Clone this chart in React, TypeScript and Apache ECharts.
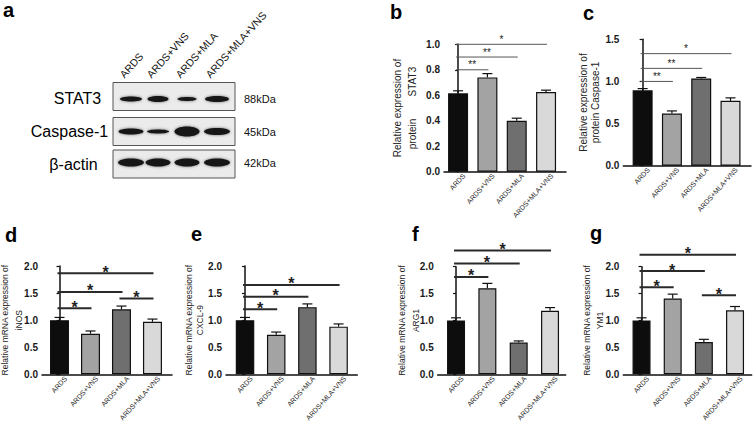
import React, { useEffect, useRef } from 'react';
import * as echarts from 'echarts';

const FONT = 'Liberation Sans, Arial, sans-serif';

// ---- data ----
const categories = ['ARDS', 'ARDS+VNS', 'ARDS+MLA', 'ARDS+MLA+VNS'];
const barColors = ['#0d0d0d', '#a3a3a3', '#6f6f6f', '#d9d9d9'];

const stat3Mean = [0.615, 0.74, 0.4, 0.625];
const stat3Sem = [0.02, 0.03, 0.02, 0.015];
const caspMean = [0.895, 0.62, 1.035, 0.77];
const caspSem = [0.02, 0.03, 0.012, 0.035];
const inosMean = [1.0, 0.75, 1.2, 0.97];
const inosSem = [0.05, 0.05, 0.06, 0.05];
const cxclMean = [1.0, 0.73, 1.24, 0.88];
const cxclSem = [0.05, 0.05, 0.06, 0.05];
const arg1Mean = [1.0, 1.6, 0.59, 1.18];
const arg1Sem = [0.05, 0.09, 0.03, 0.06];
const ym1Mean = [1.0, 1.41, 0.6, 1.19];
const ym1Sem = [0.05, 0.08, 0.05, 0.07];

// significance brackets: [fromIndex, toIndex, yValue, label]
const stat3Sig: [number, number, number, string][] = [[0, 1, 0.8, '**'], [0, 2, 0.9, '**'], [0, 3, 1.0, '*']];
const caspSig: [number, number, number, string][] = [[0, 1, 1.0, '**'], [0, 2, 1.155, '**'], [0, 3, 1.33, '*']];
const inosSig: [number, number, number, string][] = [[0, 1, 1.22, '*'], [0, 2, 1.52, '*'], [0, 3, 1.865, '*'], [2, 3, 1.4, '*']];
const cxclSig: [number, number, number, string][] = [[0, 1, 1.2, '*'], [0, 2, 1.43, '*'], [0, 3, 1.65, '*']];
const arg1Sig: [number, number, number, string][] = [[0, 1, 1.81, '*'], [0, 2, 2.06, '*'], [0, 3, 2.3, '*']];
const ym1Sig: [number, number, number, string][] = [[0, 1, 1.62, '*'], [0, 2, 1.92, '*'], [0, 3, 2.22, '*'], [2, 3, 1.47, '*']];

// western blot
const blotRows = ['STAT3', 'Caspase-1', 'β-actin'];
const blotKda = ['88kDa', '45kDa', '42kDa'];
const blotBandWidths = [[22, 21, 19, 24], [25, 22, 25, 26], [26, 25, 25, 26]];
const blotBandHeights = [[5, 6, 4, 6], [6, 4, 10, 7], [8, 8, 8, 8]];

type Panel = {
  mean: number[]; sem: number[]; sig: [number, number, number, string][];
  title: string; grid: { left: number; top: number; width: number; height: number };
  xMin: number; xMax: number; yMax: number; yInterval: number; barWidth: number;
  nameGap: number; nameLH: number; nameSize: number; thin: boolean;
};

const panels: Panel[] = [
  { mean: stat3Mean, sem: stat3Sem, sig: stat3Sig, title: 'Relative expression of\nprotein        STAT3',
    grid: { left: 444, top: 44.3, width: 122, height: 127.4 }, xMin: -0.48, xMax: 3.68, yMax: 1.0, yInterval: 0.2,
    barWidth: 20, nameGap: 24.5, nameLH: 15, nameSize: 10, thin: true },
  { mean: caspMean, sem: caspSem, sig: caspSig, title: 'Relative expression of\nprotein Caspase-1',
    grid: { left: 623.3, top: 39.3, width: 127.7, height: 126.4 }, xMin: -0.66, xMax: 3.7, yMax: 1.5, yInterval: 0.5,
    barWidth: 20, nameGap: 22, nameLH: 12, nameSize: 10, thin: true },
  { mean: inosMean, sem: inosSem, sig: inosSig, title: 'Relative mRNA expression of\niNOS',
    grid: { left: 42, top: 266, width: 130, height: 108.3 }, xMin: -0.565, xMax: 3.63, yMax: 2, yInterval: 0.5,
    barWidth: 19, nameGap: 16, nameLH: 14, nameSize: 8.5, thin: false },
  { mean: cxclMean, sem: cxclSem, sig: cxclSig, title: 'Relative mRNA expression of\nCXCL-9',
    grid: { left: 226, top: 266, width: 131.3, height: 108.3 }, xMin: -0.61, xMax: 3.6, yMax: 2, yInterval: 0.5,
    barWidth: 18.5, nameGap: 20.5, nameLH: 11, nameSize: 8.5, thin: false },
  { mean: arg1Mean, sem: arg1Sem, sig: arg1Sig, title: 'Relative mRNA expression of\nARG1',
    grid: { left: 437.7, top: 266.7, width: 128, height: 107.6 }, xMin: -0.585, xMax: 3.5, yMax: 2, yInterval: 0.5,
    barWidth: 18, nameGap: 14.7, nameLH: 14, nameSize: 8.5, thin: false },
  { mean: ym1Mean, sem: ym1Sem, sig: ym1Sig, title: 'Relative mRNA expression of\nYM1',
    grid: { left: 623.3, top: 266.7, width: 128.4, height: 107.6 }, xMin: -0.585, xMax: 3.535, yMax: 2, yInterval: 0.5,
    barWidth: 18, nameGap: 17, nameLH: 13, nameSize: 8.5, thin: false },
];

const panelLetters = [
  { t: 'a', x: 3, y: 10 }, { t: 'b', x: 390, y: 12 }, { t: 'c', x: 583, y: 13 },
  { t: 'd', x: 5, y: 235 }, { t: 'e', x: 191, y: 234 }, { t: 'f', x: 412, y: 234 }, { t: 'g', x: 590, y: 233 },
];

function buildBlot(): any[] {
  const els: any[] = [];
  const laneX = [131, 158, 187, 217];
  const rowY = [96.5, 131.5, 164];
  const rowLabelX = [77.5, 69.5, 73.5];
  categories.forEach((c, i) => {
    els.push({
      type: 'text', x: laneX[i] - 5, y: 80, rotation: (48 * Math.PI) / 180,
      style: { text: c, fontSize: 10.5, fontFamily: FONT, fill: '#111', align: 'left', verticalAlign: 'bottom' },
    });
  });
  blotRows.forEach((r, ri) => {
    els.push({
      type: 'rect', shape: { x: 113, y: rowY[ri] - 14, width: 122, height: 28 },
      style: { fill: '#ebebeb', stroke: '#555', lineWidth: 1 },
    });
    laneX.forEach((lx, li) => {
      els.push({
        type: 'ellipse',
        shape: { cx: lx, cy: rowY[ri] + (ri === 0 ? 2.5 : ri === 2 ? -1.5 : 0), rx: blotBandWidths[ri][li] / 2, ry: blotBandHeights[ri][li] / 2 },
        style: { fill: '#141414', shadowBlur: 3, shadowColor: 'rgba(0,0,0,0.55)' },
      });
    });
    els.push({
      type: 'text', x: rowLabelX[ri], y: rowY[ri] + (ri === 0 ? 1.5 : 0),
      style: { text: r, fontSize: 16, fontFamily: FONT, fill: '#000', align: 'center', verticalAlign: 'middle' },
    });
    els.push({
      type: 'text', x: 244, y: rowY[ri] + (ri === 0 ? 2.5 : ri === 2 ? -1.5 : 0),
      style: { text: blotKda[ri], fontSize: 11, fontFamily: FONT, fill: '#111', align: 'left', verticalAlign: 'middle' },
    });
  });
  return els;
}

export default function App() {
  const ref = useRef<HTMLDivElement>(null);
  useEffect(() => {
    if (!ref.current) return;
    const chart = echarts.init(ref.current, undefined, { renderer: 'svg' });
    const grids: any[] = [];
    const xAxes: any[] = [];
    const yAxes: any[] = [];
    const series: any[] = [];
    panels.forEach((p, k) => {
      grids.push({ ...p.grid, containLabel: false, outerBoundsMode: 'none' });
      xAxes.push({
        type: 'value', gridIndex: k, min: p.xMin, max: p.xMax,
        axisLine: { show: true, lineStyle: { color: '#111', width: 1.5 } },
        axisTick: { show: false }, splitLine: { show: false },
        axisLabel: {
          customValues: categories.map((_, i) => i + 0.2), rotate: 48, fontSize: 7, fontFamily: FONT, color: '#222', margin: 3,
          formatter: (v: number) => categories[Math.round(v)] ?? '',
        },
      });
      yAxes.push({
        type: 'value', gridIndex: k, min: 0, max: p.yMax, interval: p.yInterval,
        axisLine: { show: true, lineStyle: { color: '#111', width: 1.5 } },
        axisTick: { show: true, length: 3, lineStyle: { color: '#111', width: 1.2 } },
        splitLine: { show: false },
        axisLabel: { fontSize: 10, fontWeight: 'bold', fontFamily: FONT, color: '#1a1a1a', margin: 4, formatter: (v: number) => v.toFixed(1) },
        name: p.title, nameLocation: 'middle', nameRotate: 90, nameGap: p.nameGap, nameMoveOverlap: false,
        nameTextStyle: { fontSize: p.nameSize, fontFamily: FONT, color: '#222', lineHeight: p.nameLH, align: 'center' },
      });
      series.push({
        type: 'bar', xAxisIndex: k, yAxisIndex: k, barWidth: p.barWidth, z: 2,
        data: p.mean.map((v, i) => ({ value: [i, v], itemStyle: { color: barColors[i] } })),
        itemStyle: { borderColor: '#111', borderWidth: 1.2 },
      });
      series.push({
        type: 'custom', xAxisIndex: k, yAxisIndex: k, z: 3, clip: false, color: '#111',
        encode: { x: 0, y: [1, 2] },
        data: p.mean.map((v, i) => [i, v, v + p.sem[i]]),
        renderItem: (params: any, api: any) => {
          const x = api.value(0), m = api.value(1), t = api.value(2);
          const a = api.coord([x, m]);
          const b = api.coord([x, t]);
          const hw = 5;
          return {
            type: 'group', children: [
              { type: 'line', shape: { x1: a[0], y1: a[1], x2: b[0], y2: b[1] }, style: { stroke: '#111', lineWidth: 1.2 } },
              { type: 'line', shape: { x1: b[0] - hw, y1: b[1], x2: b[0] + hw, y2: b[1] }, style: { stroke: '#111', lineWidth: 1.2 } },
            ],
          };
        },
      });
      const sig = p.sig;
      series.push({
        type: 'custom', xAxisIndex: k, yAxisIndex: k, z: 4, clip: false, color: '#222',
        encode: { x: [0, 1], y: 2 },
        data: sig.map((s) => [s[0], s[1], s[2]]),
        renderItem: (params: any, api: any) => {
          const a = api.coord([api.value(0), api.value(2)]);
          const b = api.coord([api.value(1), api.value(2)]);
          const label = sig[params.dataIndex][3];
          const x1 = a[0] - 2, x2 = b[0] + 1;
          return {
            type: 'group', children: [
              { type: 'line', shape: { x1, y1: a[1], x2, y2: a[1] },
                style: { stroke: p.thin ? '#555' : '#2a2a2a', lineWidth: p.thin ? 1 : 2 } },
              { type: 'text', x: (x1 + x2) / 2, y: a[1] - (p.thin ? 5 : 1),
                style: { text: label, fontSize: p.thin ? 10 : 16, fontWeight: p.thin ? 'normal' : 'bold', fontFamily: FONT,
                  fill: '#222', align: 'center', verticalAlign: 'middle' } },
            ],
          };
        },
      });
    });

    const graphic: any[] = [...buildBlot()];
    panelLetters.forEach((l) => {
      graphic.push({
        type: 'text', x: l.x, y: l.y,
        style: { text: l.t, fontSize: 20, fontWeight: 'bold', fontFamily: FONT, fill: '#000', align: 'left', verticalAlign: 'middle' },
      });
    });

    chart.setOption({
      animation: false,
      backgroundColor: '#ffffff',
      grid: grids, xAxis: xAxes, yAxis: yAxes, series, graphic,
    });
    return () => chart.dispose();
  }, []);
  return (
    <div
      ref={ref}
      style={{ position: 'fixed', left: 0, top: 0, width: 754, height: 421, background: '#fff' }}
    />
  );
}
